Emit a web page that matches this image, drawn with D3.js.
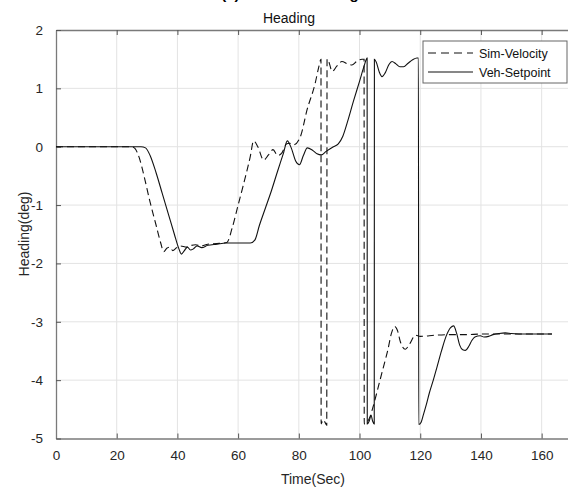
<!DOCTYPE html>
<html>
<head>
<meta charset="utf-8">
<script src="https://cdn.jsdelivr.net/npm/d3@7"></script>
<style>
  body { margin: 0; background: #fff; }
  svg { font-family: "Liberation Sans", Arial, sans-serif; }
</style>
</head>
<body>
<svg id="chart" width="568" height="491"></svg>
<script>
// DATA
var xTicks = [0, 20, 40, 60, 80, 100, 120, 140, 160];
var yTicks = [2, 1, 0, -1, -2, -3, -4, -5];
var seriesNames = ["Sim-Velocity", "Veh-Setpoint"];

var simTime = [0, 10, 20, 25, 26, 27.5, 29, 31, 33, 34.5, 35.5, 36.5, 37.5, 38.5, 39.5, 41, 43, 44, 46, 48, 50, 53, 56.3,
  58, 60, 62, 64, 65.1, 66.5, 68.4, 70, 71.5, 73, 74.5, 76, 77, 78.2, 80.5, 82.7, 85.4, 86.5, 87.3,
  87.35, 88, 88.6, 89.2, 89.3, 89.7, 91, 92.5, 94.2, 96, 97.5, 99, 100.8, 101.5,
  101.55, 102.5, 103.5, 104.5, 106.3, 108, 109.3, 110.5, 111.6, 112.5, 113.5, 115.1, 116.5, 118.4, 120,
  125, 130, 135, 140, 150, 163.4];
var simHeading = [0, 0, 0, 0, -0.03, -0.2, -0.5, -0.95, -1.35, -1.65, -1.8, -1.74, -1.72, -1.78, -1.74, -1.7, -1.72, -1.7, -1.68, -1.7, -1.67, -1.66, -1.64,
  -1.4, -1.0, -0.6, -0.17, 0.10, 0.0, -0.23, -0.14, -0.05, -0.15, -0.1, 0.05, 0.06, 0.03, 0.17, 0.63, 1.09, 1.35, 1.5,
  -4.75, -4.68, -4.72, -4.77, 1.5, 1.48, 1.29, 1.38, 1.46, 1.42, 1.40, 1.46, 1.5, 1.5,
  -4.75, -4.72, -4.62, -4.45, -4.09, -3.75, -3.49, -3.2, -3.08, -3.15, -3.35, -3.47, -3.38, -3.23, -3.25,
  -3.23, -3.22, -3.22, -3.21, -3.21, -3.21];

var vehTime = [0, 10, 20, 28, 29.5, 31, 33, 35, 37, 39, 40.5, 41.3, 42.3, 43.3, 44.3, 45.3, 46.5, 48, 50, 53, 56, 60, 64,
  65.5, 67, 69, 71, 73, 75, 76.2, 77.5, 79, 80.2, 81.5, 82.8, 84.5, 86, 87.4, 89, 91.4, 93, 94.5, 96, 98, 100, 101.5, 102.5,
  102.55, 103.2, 103.8, 104.3, 104.85, 104.9, 105.5, 106.5, 107.4, 108.5, 109.7, 110.7, 112, 113.3, 114.5, 116, 117.5, 118.9, 119.4,
  119.5, 120.3, 121, 122, 123, 124.3, 125.5, 127, 128.5, 130, 131, 132, 133, 134, 134.9, 136, 137, 138, 139.8,
  141, 142.5, 144, 146, 148, 150, 155, 160, 163.4];
var vehHeading = [0, 0, 0, 0, -0.02, -0.15, -0.45, -0.8, -1.15, -1.5, -1.75, -1.84, -1.78, -1.72, -1.77, -1.75, -1.7, -1.73, -1.69, -1.67, -1.65, -1.65, -1.65,
  -1.6, -1.35, -1.05, -0.75, -0.42, -0.1, 0.10, -0.02, -0.25, -0.31, -0.15, -0.02, -0.06, -0.12, -0.14, -0.08, 0.0, 0.05, 0.18, 0.42, 0.78, 1.12, 1.38, 1.52,
  -4.75, -4.7, -4.6, -4.7, -4.75, 1.5, 1.45, 1.28, 1.2, 1.27, 1.41, 1.46, 1.42, 1.37, 1.37, 1.43, 1.49, 1.52, 1.52,
  -4.76, -4.72, -4.6, -4.42, -4.22, -4.0, -3.78, -3.5, -3.25, -3.1, -3.07, -3.2, -3.4, -3.48, -3.49, -3.42, -3.32, -3.26, -3.24,
  -3.26, -3.25, -3.22, -3.2, -3.19, -3.2, -3.21, -3.21, -3.21];

var svg = d3.select("#chart");
var plotLeft = 56, plotTop = 30, plotRight = 572, plotBottom = 438.5;

var x = d3.scaleLinear().domain([0, 170]).range([plotLeft, plotRight]);
var y = d3.scaleLinear().domain([-5, 2]).range([plotBottom, plotTop]);

// grid
svg.append("g").selectAll("line").data(xTicks.slice(1)).enter().append("line")
  .attr("x1", function(d){ return x(d); }).attr("x2", function(d){ return x(d); })
  .attr("y1", plotTop).attr("y2", plotBottom)
  .style("stroke", "#e3e3e3").style("stroke-width", 1);
svg.append("g").selectAll("line").data(yTicks.slice(1, -1)).enter().append("line")
  .attr("x1", plotLeft).attr("x2", plotRight)
  .attr("y1", function(d){ return y(d); }).attr("y2", function(d){ return y(d); })
  .style("stroke", "#e3e3e3").style("stroke-width", 1);

// axes
var plain = function(d){ return String(d); };
var xAxis = svg.append("g").attr("transform", "translate(0," + plotBottom + ")")
  .call(d3.axisBottom(x).tickValues(xTicks).tickFormat(plain).tickSizeInner(-5).tickSizeOuter(0).tickPadding(12));
var xTop = svg.append("g").attr("transform", "translate(0," + plotTop + ")")
  .call(d3.axisTop(x).tickValues(xTicks).tickSizeInner(-5).tickSizeOuter(0).tickFormat(""));
var yAxis = svg.append("g").attr("transform", "translate(" + plotLeft + ",0)")
  .call(d3.axisLeft(y).tickValues(yTicks).tickFormat(plain).tickSizeInner(-5).tickSizeOuter(0).tickPadding(13));

[xAxis, xTop, yAxis].forEach(function(a){
  a.select(".domain").style("stroke", "#7a7a7a").style("stroke-width", 1.3);
  a.selectAll(".tick line").style("stroke", "#555");
  a.selectAll(".tick text").style("font-size", "13.5px").style("fill", "#262626")
    .style("font-family", "Liberation Sans, Arial, sans-serif");
});

// lines
var line = d3.line()
  .x(function(d){ return x(d[0]); })
  .y(function(d){ return y(d[1]); })
  .curve(d3.curveMonotoneX);

var simData = d3.zip(simTime, simHeading);
var vehData = d3.zip(vehTime, vehHeading);

svg.append("path").datum(vehData).attr("d", line)
  .style("fill", "none").style("stroke", "#111").style("stroke-width", 1.1);
svg.append("path").datum(simData).attr("d", line)
  .style("fill", "none").style("stroke", "#111").style("stroke-width", 1.1)
  .style("stroke-dasharray", "7,4");

// titles
svg.append("text").attr("x", 290).attr("y", -1).attr("text-anchor", "middle")
  .style("font-size", "15px").style("font-weight", "bold").text("(c) Vehicle Heading");
svg.append("text").attr("x", 289).attr("y", 23).attr("text-anchor", "middle")
  .style("font-size", "14px").style("fill", "#111").text("Heading");
svg.append("text").attr("x", 313).attr("y", 484).attr("text-anchor", "middle")
  .style("font-size", "14px").style("fill", "#262626").text("Time(Sec)");
svg.append("text").attr("transform", "translate(29,234) rotate(-90)").attr("text-anchor", "middle")
  .style("font-size", "14px").style("fill", "#262626").text("Heading(deg)");

// legend
var lg = svg.append("g");
lg.append("rect").attr("x", 423).attr("y", 41).attr("width", 144).attr("height", 42)
  .style("fill", "#fff").style("stroke", "#666").style("stroke-width", 1);
seriesNames.forEach(function(name, i){
  var ly = 53 + i * 19;
  lg.append("line").attr("x1", 428).attr("x2", 473).attr("y1", ly).attr("y2", ly)
    .style("stroke", "#111").style("stroke-width", 1.1)
    .style("stroke-dasharray", i === 0 ? "8,5" : null);
  lg.append("text").attr("x", 479).attr("y", ly + 4.5)
    .style("font-size", "12.5px").style("fill", "#111").text(name);
});
</script>
</body>
</html>
